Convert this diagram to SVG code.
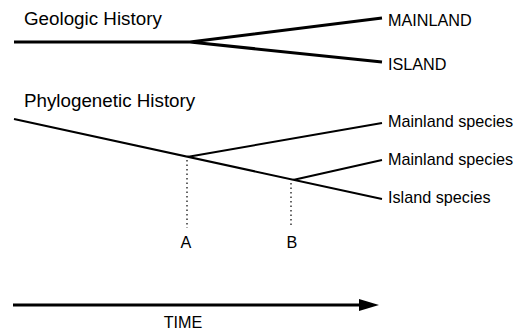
<svg xmlns="http://www.w3.org/2000/svg" width="517" height="333" viewBox="0 0 517 333">
<style>
text{font-family:"Liberation Sans",Arial,sans-serif;fill:#000}
.h{font-size:18.8px}
.l{font-size:16.2px}
.geo{stroke:#000;stroke-width:3;fill:none;stroke-linecap:butt}
.phy{stroke:#000;stroke-width:2;fill:none}
.dot{stroke:#000;stroke-width:1.2;stroke-dasharray:1.5 3;fill:none}
</style>
<rect width="517" height="333" fill="#fff"/>
<g id="titles">
<text class="h" x="24" y="25">Geologic History</text>
<text class="h" x="24" y="107">Phylogenetic History</text>
</g>
<g id="connectors">
<path class="geo" d="M14,42 L190,42 L382,18 M190,42 L382,62"/>
<path class="phy" d="M14,119 L382,199 M187,157 L382,123 M293,180 L382,160"/>
<path class="dot" d="M187,160 V228 M291,183 V226"/>
<path d="M13,305 H362" stroke="#000" stroke-width="3"/>
<path d="M359,299 L379,305 L359,311 Z" fill="#000"/>
</g>
<g id="mainland"><text class="l" x="388" y="26">MAINLAND</text></g>
<g id="island"><text class="l" x="388" y="70">ISLAND</text></g>
<g id="sp1"><text class="l" x="388" y="127">Mainland species</text></g>
<g id="sp2"><text class="l" x="388" y="165">Mainland species</text></g>
<g id="sp3"><text class="l" x="388" y="203">Island species</text></g>
<g id="A"><text class="l" x="186" y="248" text-anchor="middle">A</text></g>
<g id="B"><text class="l" x="292" y="248" text-anchor="middle">B</text></g>
<g id="time"><text class="l" x="183" y="328" text-anchor="middle">TIME</text></g>
</svg>
